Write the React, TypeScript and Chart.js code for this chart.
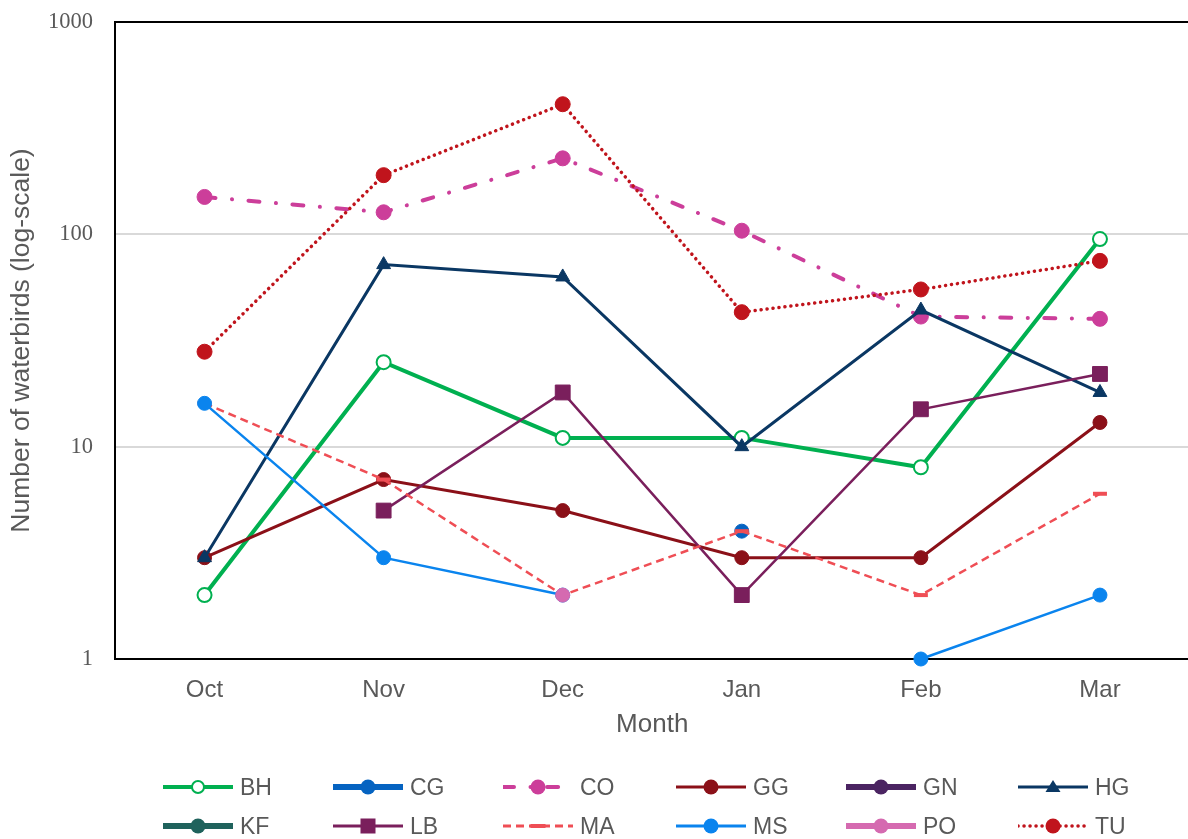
import React, { useEffect, useRef } from "react";
import { Chart, registerables } from "chart.js";
Chart.register(...registerables);

const months = ["Oct", "Nov", "Dec", "Jan", "Feb", "Mar"];
const yTicks = [1, 10, 100, 1000];

const BH = [2, 25, 11, 11, 8, 95];
const CG = [null, null, null, 4, null, null];
const CO = [150, 127, 228, 104, 41, 40];
const GG = [3, 7, 5, 3, 3, 13];
const GN = [null, null, null, null, null, null];
const HG = [3, 72, 63, 10, 44, 18];
const KF = [null, null, null, null, null, null];
const LB = [null, 5, 18, 2, 15, 22];
const MA = [16, 7, 2, 4, 2, 6];
const MS = [16, 3, 2, null, 1, 2];
const PO = [null, null, 2, null, null, null];
const TU = [28, 190, 410, 43, 55, 75];

type S = {
  label: string;
  data: (number | null)[];
  color: string;
  width: number;
  dash: number[];
  cap?: string;
  style: string;
  radius: number;
  bg?: string;
  pbw?: number;
  lw: number;
};

const series: S[] = [
  { label: "BH", data: BH, color: "#00B050", width: 4, dash: [], style: "circle", radius: 7, bg: "#ffffff", pbw: 2, lw: 4 },
  { label: "CG", data: CG, color: "#0563C1", width: 5, dash: [], style: "circle", radius: 7, lw: 6 },
  { label: "CO", data: CO, color: "#CC3E9A", width: 4, dash: [11, 16.5, 0.1, 16.5], cap: "round", style: "circle", radius: 7.5, lw: 4 },
  { label: "GG", data: GG, color: "#8B1018", width: 3, dash: [], style: "circle", radius: 7, lw: 3 },
  { label: "GN", data: GN, color: "#4B2462", width: 5, dash: [], style: "circle", radius: 7, lw: 6 },
  { label: "HG", data: HG, color: "#0A3763", width: 3, dash: [], style: "triangle", radius: 8, lw: 3 },
  { label: "KF", data: KF, color: "#1F625C", width: 5, dash: [], style: "circle", radius: 7, lw: 6 },
  { label: "LB", data: LB, color: "#7A1F5C", width: 2.5, dash: [], style: "rect", radius: 10.5, lw: 3 },
  { label: "MA", data: MA, color: "#EF4E55", width: 2.5, dash: [8, 5], style: "line", radius: 7, pbw: 4, lw: 3 },
  { label: "MS", data: MS, color: "#0A84EE", width: 2.5, dash: [], style: "circle", radius: 7, lw: 3 },
  { label: "PO", data: PO, color: "#D56AB0", width: 5, dash: [], style: "circle", radius: 7, lw: 6 },
  { label: "TU", data: TU, color: "#C0141C", width: 3.5, dash: [0.1, 5.9], cap: "round", style: "circle", radius: 7.5, lw: 3.5 },
];

const gray = "#595959";
const sans = "'Liberation Sans', Arial, sans-serif";
const legendCols = [163, 333, 503, 676, 846, 1018];
const legendRows = [787, 826];

const framePlugin = {
  id: "frame",
  beforeDatasetsDraw(chart: any) {
    const { ctx, chartArea } = chart;
    const { left, top, right, bottom } = chartArea;
    ctx.save();
    ctx.strokeStyle = "#000";
    ctx.lineWidth = 2;
    ctx.beginPath();
    ctx.moveTo(right + 20, top);
    ctx.lineTo(left, top);
    ctx.lineTo(left, bottom);
    ctx.lineTo(right + 20, bottom);
    ctx.stroke();
    ctx.restore();
  },
};

function Marker({ s }: { s: S }) {
  const cx = 35, cy = 12;
  if (s.style === "triangle") {
    return <polygon points={`${cx},${cy - 7} ${cx + 7.5},${cy + 5} ${cx - 7.5},${cy + 5}`} fill={s.color} />;
  }
  if (s.style === "rect") {
    return <rect x={cx - 7.5} y={cy - 7.5} width={15} height={15} fill={s.color} />;
  }
  if (s.style === "line") {
    return <rect x={cx - 7.5} y={cy - 2} width={15} height={4} fill={s.color} />;
  }
  if (s.bg) {
    return <circle cx={cx} cy={cy} r={6} fill={s.bg} stroke={s.color} strokeWidth={2} />;
  }
  return <circle cx={cx} cy={cy} r={7.5} fill={s.color} />;
}

export default function App() {
  const ref = useRef<HTMLCanvasElement | null>(null);
  useEffect(() => {
    document.body.style.margin = "0";
    const canvas = ref.current!;
    const n = series.length;
    const chart = new Chart(canvas, {
      type: "line",
      data: {
        labels: months,
        datasets: series.map((s, i) => ({
          label: s.label,
          data: s.data,
          borderColor: s.color,
          backgroundColor: s.color,
          borderWidth: s.width,
          borderDash: s.dash,
          borderCapStyle: (s.cap || "butt") as any,
          pointStyle: s.style as any,
          pointRadius: s.radius,
          pointHoverRadius: s.radius,
          pointBackgroundColor: s.bg || s.color,
          pointBorderColor: s.color,
          pointBorderWidth: s.pbw || 1,
          tension: 0,
          spanGaps: false,
          clip: false as any,
          order: n - i,
        })),
      },
      options: {
        animation: false,
        responsive: false,
        devicePixelRatio: 1,
        events: [],
        layout: { padding: { top: 22, right: 0, bottom: 96, left: 0 } },
        plugins: { legend: { display: false }, tooltip: { enabled: false } },
        scales: {
          x: {
            type: "category",
            offset: true,
            grid: { display: false, drawTicks: true, tickLength: 17, tickColor: "rgba(0,0,0,0)" },
            border: { display: false },
            ticks: {
              color: gray,
              padding: 0,
              font: { family: sans, size: 24 },
              maxRotation: 0,
            },
            title: {
              display: true,
              text: "Month",
              color: gray,
              padding: { top: 0, bottom: 3 },
              font: { family: sans, size: 26 },
            },
            afterFit(axis: any) {
              axis.height = 84;
            },
          },
          y: {
            type: "logarithmic",
            min: 1,
            max: 1000,
            grid: { color: "#d9d9d9", lineWidth: 2, drawTicks: true, tickLength: 22, tickColor: "rgba(0,0,0,0)" },
            border: { display: false },
            afterBuildTicks(axis: any) {
              axis.ticks = yTicks.map((v) => ({ value: v }));
            },
            ticks: {
              color: gray,
              padding: 0,
              font: { family: "'Liberation Serif', 'Times New Roman', serif", size: 22.5 },
              callback: (v: any) => String(v),
            },
            title: {
              display: true,
              text: "Number of waterbirds (log-scale)",
              color: gray,
              padding: { top: 6, bottom: 0 },
              font: { family: sans, size: 26.5 },
            },
            afterFit(axis: any) {
              axis.width = 115;
            },
          },
        },
      },
      plugins: [framePlugin],
    } as any);
    return () => chart.destroy();
  }, []);

  return (
    <div style={{ position: "absolute", left: 0, top: 0, width: 1188, height: 839, overflow: "hidden", background: "#fff" }}>
      <canvas ref={ref} width={1201} height={839} style={{ position: "absolute", left: 0, top: 0 }} />
      {series.map((s, i) => {
        const col = legendCols[i % 6];
        const row = legendRows[Math.floor(i / 6)];
        return (
          <div key={s.label} style={{ position: "absolute", left: col, top: row - 12, height: 24, display: "flex", alignItems: "center" }}>
            <svg width={70} height={24} style={{ display: "block" }}>
              <line
                x1={0}
                y1={12}
                x2={70}
                y2={12}
                stroke={s.color}
                strokeWidth={s.lw}
                strokeLinecap={(s.cap as any) || "butt"}
                strokeDasharray={s.dash.length ? s.dash.join(",") : undefined}
              />
              <Marker s={s} />
            </svg>
            <span style={{ marginLeft: 7, fontFamily: sans, fontSize: 23, color: gray, lineHeight: "24px", whiteSpace: "nowrap" }}>{s.label}</span>
          </div>
        );
      })}
    </div>
  );
}
